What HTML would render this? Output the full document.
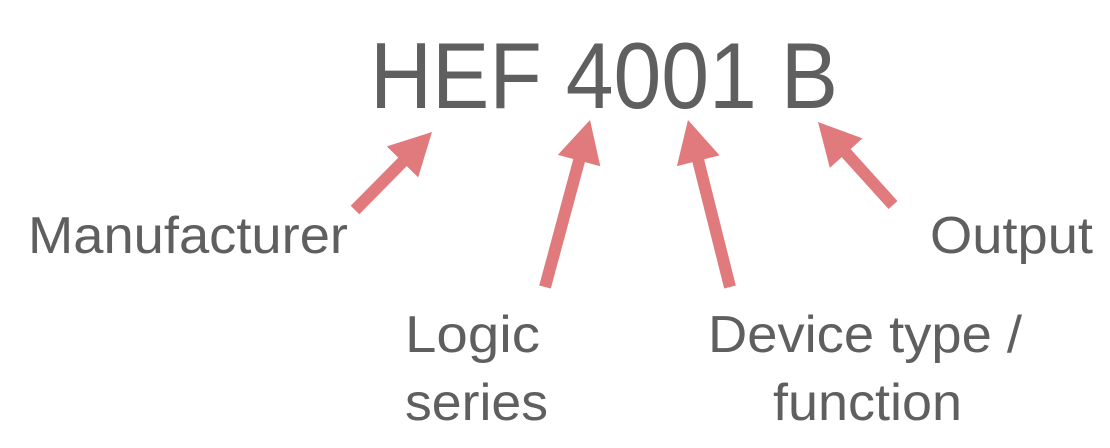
<!DOCTYPE html>
<html><head><meta charset="utf-8"><style>
html,body{margin:0;padding:0;background:#fff;}
svg{display:block;}
text{font-family:"Liberation Sans",Arial,sans-serif;fill:#5f5f5f;}
</style></head><body>
<svg id="d" width="1110" height="448" viewBox="0 0 1110 448">
<text x="370" y="108" font-size="94" textLength="468" lengthAdjust="spacingAndGlyphs">HEF 4001 B</text>
<text x="28" y="253" font-size="52" textLength="320" lengthAdjust="spacingAndGlyphs">Manufacturer</text>
<text x="930" y="253" font-size="52" textLength="163" lengthAdjust="spacingAndGlyphs">Output</text>
<text x="405" y="352" font-size="52" textLength="135" lengthAdjust="spacingAndGlyphs">Logic</text>
<text x="405" y="420" font-size="52" textLength="143" lengthAdjust="spacingAndGlyphs">series</text>
<text x="708" y="352" font-size="52" textLength="314" lengthAdjust="spacingAndGlyphs">Device type /</text>
<text x="773" y="420" font-size="52" textLength="189" lengthAdjust="spacingAndGlyphs">function</text>
<g id="arrows"></g>
</svg>
<script>
var arrows=[[355,210,432,132,'manufacturer-arrow'],[545,287,590,120,'logic-series-arrow'],[730,287,688,120,'device-type-arrow'],[893,205,818,122,'output-arrow']];
var g=document.getElementById('arrows'),ns='http://www.w3.org/2000/svg';
arrows.forEach(function(a){
 var dx=a[2]-a[0],dy=a[3]-a[1],L=Math.hypot(dx,dy),ux=dx/L,uy=dy/L,px=-uy,py=ux,h=42,w=22;
 var bx=a[2]-ux*h,by=a[3]-uy*h;
 var ln=document.createElementNS(ns,'line');
 ln.setAttribute('x1',a[0]);ln.setAttribute('y1',a[1]);ln.setAttribute('x2',bx+ux*4);ln.setAttribute('y2',by+uy*4);
 ln.setAttribute('stroke','#e07a7c');ln.setAttribute('stroke-width','12');
 
 
 g.appendChild(ln);
 var p=document.createElementNS(ns,'polygon');
 p.setAttribute('points',a[2]+','+a[3]+' '+(bx+px*w)+','+(by+py*w)+' '+(bx-px*w)+','+(by-py*w));
 p.setAttribute('fill','#e07a7c');
 
 
 g.appendChild(p);
});
</script>
</body></html>
